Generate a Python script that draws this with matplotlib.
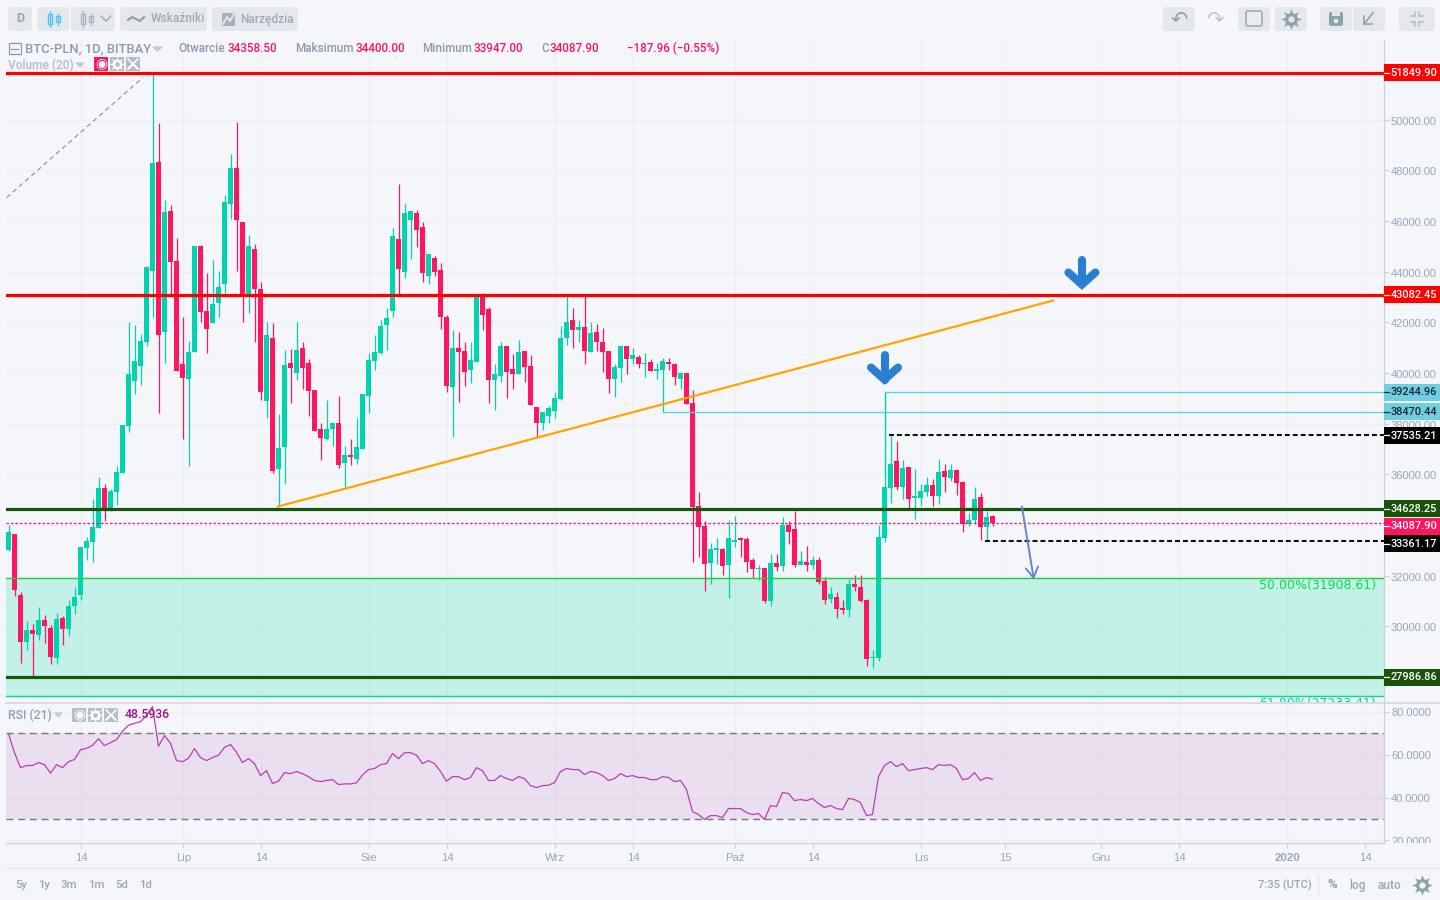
import matplotlib
matplotlib.use('Agg')
import matplotlib.pyplot as plt
import numpy as np
from matplotlib.patches import FancyBboxPatch, Rectangle
from matplotlib.transforms import Bbox, ScaledTranslation

opens = [32990,33660,31250,29390,29830,29670,30260,29910,28760,30340,
         29870,30780,31250,33070,33340,33860,35440,34650,35280,36030,
         37890,39700,40260,41240,44010,48350,41600,46380,44440,40370,
         39780,40810,45000,42430,41990,42780,43500,46690,48080,45980,
         43100,44880,43300,38910,41400,36190,37060,40410,39980,40970,
         40410,39310,37770,37410,37770,38040,36460,36780,36620,36980,
         39110,40490,40770,41910,42430,45310,43970,46060,46300,45750,
         43810,44560,44050,42230,39460,40970,40850,40100,40450,43060,
         42510,39740,39900,41050,40140,39940,40850,40260,38640,38010,
         38320,38480,38990,41400,42110,41680,41800,40810,41600,41240,
         40850,39780,40180,41050,40570,40650,40340,40450,40060,40100,
         40450,40370,39780,39980,38800,34730,33940,32510,32990,33030,
         32430,33340,33500,33460,32630,32240,32280,31010,32510,32360,
         33980,33820,32430,32550,32430,32630,31800,31090,31170,30700,
         30620,31680,31560,31050,28760,28760,33500,35440,36540,35480,
         36270,35080,35080,35280,35560,35160,36110,35870,36150,35680,
         34050,34210,35120,33900,34358.5]
highs = [34010,33660,31330,30220,30100,30740,30460,30030,30540,30420,
         31050,31530,33110,33540,35040,35910,35600,35400,36310,37930,
         42030,41910,41520,44210,51850,49890,46850,46620,45350,42230,
         41280,45000,45040,43930,44480,44010,47010,48630,49930,45980,
         45430,45110,43610,42030,41990,38360,40890,40930,42030,41210,
         40570,39310,38040,38950,38040,39110,37130,37410,38240,39150,
         40770,41480,42110,42550,45710,47450,46730,46380,46420,45980,
         44680,44600,44360,42270,41680,41600,41210,41240,43020,43140,
         42590,40370,41210,41050,40730,41320,40850,40690,38640,38440,
         38710,39230,41840,43020,42550,42110,43020,42030,41950,41760,
         40850,40340,41050,41050,40970,40690,40770,40570,40410,40610,
         40610,40410,40020,39980,39310,35280,34170,33300,33500,33070,
         34210,34370,33540,33540,32710,32430,32280,32870,32870,34330,
         34170,34530,32950,33150,32790,32750,31960,31530,31330,31050,
         31880,32040,32040,31090,29040,34010,39240,37530,37330,36580,
         36270,36190,35600,35910,35830,36620,36420,36420,36190,35750,
         34450,35480,35240,34530,34400]
lows = [32950,31210,28560,29040,28050,29470,29350,28520,28520,29240,
        29630,30500,31050,32630,32550,33860,34170,34530,34800,36030,
        37650,39150,39540,41080,42230,38400,40410,43060,40060,37410,
        36310,40810,42030,40770,41990,42230,43140,46100,44010,42030,
        42350,41240,38950,38240,36030,34690,35630,38800,39740,39350,
        38320,37690,36580,37370,37100,36230,35480,36380,36420,36980,
        38400,40100,40730,40890,42230,43020,43770,44520,44960,43610,
        43500,43810,41720,39230,37490,38870,39500,39620,40450,41680,
        38830,38520,39660,39030,39350,39940,39660,38720,37450,37730,
        38040,38240,38950,41120,41000,41240,40370,40810,40850,40020,
        39190,39070,39660,39940,40340,40180,39860,40060,39780,38440,
        40100,39540,39350,38760,32550,32750,31370,31650,32470,32040,
        31130,33110,32750,32120,31920,31840,30930,30780,32160,32160,
        33260,32320,32400,32160,32240,31680,30860,30930,30340,30500,
        30380,31370,30970,28440,28330,28640,33340,34880,35360,35040,
        34570,34250,34730,35160,34730,34840,35280,35750,35200,33700,
        33940,34050,33420,33380,33947]
closes = [33700,31410,29390,29830,29710,30260,29990,28800,30300,29870,
          30810,31170,33110,33380,33900,35440,34610,35320,36070,37930,
          39940,40490,41280,44170,48310,41480,46340,44400,40060,39820,
          40810,45000,42390,41720,42740,43380,46770,48080,46060,43060,
          45030,43300,39230,41480,36110,37020,40330,40180,40890,40180,
          39270,37690,37450,37770,38040,36380,36780,36700,37060,39150,
          40530,40810,41840,42190,45390,44090,46300,46380,45630,43930,
          44680,43970,42230,39500,40970,40810,40020,40530,43020,42270,
          39740,39940,41050,40020,39940,40810,40220,38720,38010,38440,
          38600,39030,41400,42030,41680,41800,40850,41560,41210,40810,
          39780,40220,41050,40570,40690,40340,40410,40060,40140,40490,
          40340,39860,39980,38760,34690,33900,32470,33030,33070,32360,
          33500,33420,33420,32550,32240,32280,31010,32510,32320,33980,
          33700,32400,32590,32430,32630,31760,31050,31290,30660,30620,
          31680,31560,31010,28720,28800,33540,35480,36420,35480,36230,
          35040,35160,35320,35560,35160,36070,35910,36150,35640,34050,
          34210,35040,33900,34330,34087.9]
rsi = [69.9,61,54,55,55,56.4,55.4,51.4,55.4,54,
       56.8,57.8,62.4,63,64.4,67.5,64.3,65.7,67.1,71,
       73.8,74.7,75.5,78.4,82.5,64,69,65.4,57.3,56.8,
       58.4,62.9,58.7,57.3,58.7,59.8,63.5,64.8,61.2,56.4,
       58.2,55.9,50.3,52.6,46.6,47.7,51.7,51.2,52.2,51.2,
       49.8,48,47.5,48,48.4,46.1,46.4,46.4,46.9,50.6,
       53.1,53.6,55.4,55.9,60.6,58.2,61,61,59.8,55.9,
       57.3,55.9,52.2,47.7,49.8,49.8,48.4,49.4,54,52.6,
       48,48,50.3,48.9,48,49.8,48.9,45.6,44.7,45.6,
       45.8,47,52.2,53.6,53.1,53.1,50.8,52.2,51.7,50.3,
       48,48.9,51.2,49.8,50.3,49.4,49.4,48.4,48.4,49.8,
       49.4,47.5,48,43.8,33.5,32.1,29.8,31.6,31.6,30.7,
       34.9,34.9,34.9,33,32.1,32.6,29.8,36.3,35.8,42.4,
       41.9,38.6,39.1,38.6,39.6,37.2,35.4,36.3,34.9,34.4,
       39.6,39.1,37.7,31.6,32.1,49.8,55,56.8,54.5,55.9,
       52.6,53.1,53.6,54,53.1,55.4,55,55.4,53.6,48.4,
       48.9,51.7,48,49.4,48.5936]

# days since the first candle, labels of the date axis
tick_days = [12,29,42,60,73,91,104,121,134,152,166,182,195,213,226]
tick_labels = ['14','Lip','14','Sie','14','Wrz','14','Paź','14','Lis','15','Gru','14','2020','14']
price_ticks = list(range(28000, 54000, 2000))
rsi_ticks = [80, 60, 40]

red_levels = [51849.90, 43082.45]
green_levels = [34628.25, 27986.86]
last_price = 34087.90
fib_top, fib_bottom = 31908.61, 27233.41
cyan_levels = [39244.96, 38470.44]
cyan_start = [146, 109]
dash_levels = [37535.21, 33361.17]
dash_start = [146.75, 162.75]
trend_x, trend_y = [44.9, 174.1], [34725, 42860]
fan_x, fan_y = [-0.3, 22.4], [46930, 51670]
drop_x, drop_y = [168.9, 170.9], [34725, 31840]
big_arrows = [(146, 39742), (178.9, 43495)]

# tag text, colour, text colour, tag centre price
tags = [('51849.90', '#ff0000', 'white', 51849.90),
        ('43082.45', '#ff0000', 'white', 43082.45),
        ('39244.96', '#6fcfe0', '#1c2733', 39244.96),
        ('38470.44', '#6fcfe0', '#1c2733', 38470.44),
        ('37535.21', '#000000', 'white', 37535.21),
        ('34628.25', '#1a5209', 'white', 34628.25),
        ('34087.90', '#ff1560', 'white', 33950),
        ('33361.17', '#000000', 'white', 33261),
        ('27986.86', '#1a5209', 'white', 27986.86)]

BG = '#f4f6f9'
UP = '#00d4ae'
DOWN = '#ff1560'
GRID = '#edeff2'
AXIS_TXT = '#98a6bd'
HEAD = '#8d99b0'
DPI = 100

plt.rcParams['font.family'] = ['Liberation Sans', 'DejaVu Sans']
fig = plt.figure(figsize=(14.4, 9), dpi=DPI, facecolor=BG)
ax = fig.add_axes([6/1440, 197/900, 1378/1440, 663/900], facecolor=BG)
ax_rsi = fig.add_axes([6/1440, 57/900, 1378/1440, 140/900], facecolor=BG)

x_min, x_max = -0.417, 229.25
x = np.arange(len(opens))
o, h, l, c = map(np.array, (opens, highs, lows, closes))
colors = [UP if c[i] >= o[i] else DOWN for i in x]
tick_x = np.array(tick_days) + 0.13

# price panel
ax.set_xlim(x_min, x_max)
ax.set_ylim(26966, 53150)
ax.vlines(x, l, h, colors=colors, linewidth=0.9, zorder=3)
ax.bar(x, np.maximum(np.abs(c - o), 40), bottom=np.minimum(o, c), width=0.83, color=colors, linewidth=0, zorder=3)
ax.axhspan(fib_bottom, fib_top, color='#00d9a0', alpha=0.2, linewidth=0, zorder=2)
ax.axhline(fib_top, color='#1fcf3f', lw=1.0, zorder=4)
ax.axhline(fib_bottom, color='#00dc9c', lw=1.0, zorder=4)
for lev in red_levels:
    ax.axhline(lev, color='#ff0000', lw=2.3, zorder=5)
for lev in green_levels:
    ax.axhline(lev, color='#17560c', lw=2.3, zorder=5)
ax.axhline(last_price, color=DOWN, lw=0.9, dashes=(2, 1.6), zorder=5)
for lev, st in zip(cyan_levels, cyan_start):
    ax.plot([st, x_max], [lev, lev], color='#62cfdc', lw=0.95, zorder=4)
ax.plot([146, 146], [cyan_levels[0], 36000], color=UP, lw=0.9, zorder=3)
for lev, st in zip(dash_levels, dash_start):
    ax.plot([st, x_max], [lev, lev], color='#111111', lw=1.5, dashes=(2.4, 1.4), zorder=5)
ax.plot(trend_x, trend_y, color='#ffa500', lw=1.6, zorder=6)
ax.plot(fan_x, fan_y, color='#8a8f96', lw=0.8, dashes=(4.2, 3.2), zorder=4)
ax.annotate('', xy=(drop_x[1], drop_y[1]), xytext=(drop_x[0], drop_y[0]), zorder=7,
            arrowprops=dict(arrowstyle='->,head_length=0.5,head_width=0.3', color='#6c84d0', lw=1.4,
                            mutation_scale=15, shrinkA=0, shrinkB=0))
for ax_x, tip in big_arrows:
    ax.plot([ax_x, ax_x], [tip + 948, tip], color='#2a7fd2', lw=5.8, solid_capstyle='round', zorder=8)
    ax.plot([ax_x - 2.25, ax_x, ax_x + 2.25], [tip + 474, tip, tip + 474], color='#2a7fd2', lw=5.8,
            solid_capstyle='round', solid_joinstyle='miter', zorder=8)
ax.text(227.9, fib_top - 296, '50.00%(31908.61)', color='#06e04f', ha='right', va='center',
        fontsize=9, family='DejaVu Sans', zorder=6)
ax.text(227.9, fib_bottom - 296, '61.80%(27233.41)', color='#00dc9c', ha='right', va='center',
        fontsize=9, family='DejaVu Sans', clip_on=True, zorder=6)

ax.set_yticks(price_ticks)
ax.set_yticklabels(['%.2f' % p for p in price_ticks])
ax.yaxis.tick_right()
ax.tick_params(axis='y', length=3.5, width=0.8, color='#c6d0dc', labelcolor=AXIS_TXT, labelsize=8, pad=1.5)
ax.tick_params(axis='x', length=0, labelbottom=False)
for t in ax.get_yticklabels():
    t.set_transform(t.get_transform() + ScaledTranslation(0, -1 / DPI, fig.dpi_scale_trans))
ax.set_xticks(tick_x)
ax.grid(True, color=GRID, lw=0.95)
ax.set_axisbelow(True)
for side in ['top', 'left', 'bottom']:
    ax.spines[side].set_visible(False)
ax.spines['right'].set_color('#c6d2dc')
ax.spines['right'].set_linewidth(0.9)

# price tags on the right axis
yt = ax.get_yaxis_transform()
tag_h = 17 * 39.5
for label_txt, col, txt, centre in tags:
    ax.add_patch(Rectangle((1.0003, centre - tag_h / 2), 56 / 1378, tag_h, transform=yt, color=col,
                           linewidth=0, clip_on=False, zorder=10))
    ax.plot([1.0003, 1.0035], [centre, centre], transform=yt, color=txt, lw=0.9, clip_on=False, zorder=11)
    ax.text(1.0048, centre - 10, label_txt, transform=yt, color=txt, family='Roboto', weight='medium', fontsize=7.9,
            ha='left', va='center', clip_on=False, zorder=11)

# rsi panel
ax_rsi.set_xlim(x_min, x_max)
ax_rsi.set_ylim(18.8, 84.2)
ax_rsi.axhspan(30, 70, color='#a03aa8', alpha=0.12, linewidth=0, zorder=2)
ax_rsi.axhline(70, color='#80727f', lw=1.0, dashes=(5, 3.4), zorder=3)
ax_rsi.axhline(30, color='#80727f', lw=1.0, dashes=(5, 3.4), zorder=3)
ax_rsi.plot(x, rsi, color='#bb3db4', lw=0.9, zorder=4, clip_on=False)
ax_rsi.set_xticks(tick_x)
ax_rsi.set_xticklabels(tick_labels)
ax_rsi.get_xticklabels()[13].set_fontweight('bold')
ax_rsi.set_yticks(rsi_ticks + [20])
ax_rsi.set_yticklabels([])
ax_rsi.yaxis.tick_right()
ax_rsi.tick_params(axis='y', length=3.5, width=0.8, color='#c6d0dc')
ax_rsi.tick_params(axis='x', length=3.5, width=0.8, color='#c6d2dc', labelcolor=AXIS_TXT, labelsize=8.2, pad=4)
ax_rsi.grid(True, color=GRID, lw=0.95)
ax_rsi.set_axisbelow(True)
for side in ['top', 'left']:
    ax_rsi.spines[side].set_visible(False)
ax_rsi.spines['bottom'].set_color('#cbd7db')
ax_rsi.spines['bottom'].set_linewidth(1.0)
ax_rsi.spines['right'].set_color('#c6d2dc')
ax_rsi.spines['right'].set_linewidth(0.9)
yt_rsi = ax_rsi.get_yaxis_transform()
clip_box = Bbox([[1384, 57], [1440, 900]])
for v in rsi_ticks + [20]:
    t = ax_rsi.text(1.0052, v - 0.6, '%.4f' % v, transform=yt_rsi, color=AXIS_TXT, fontsize=8, ha='left', va='center', clip_on=True)
    t.set_clip_box(clip_box)

# page chrome, in screen pixels
ui = fig.add_axes([0, 0, 1, 1], zorder=20)
ui.set_xlim(0, 1440)
ui.set_ylim(900, 0)
ui.axis('off')
ui.patch.set_alpha(0)

def button(x0, y0, x1, y1, col='#e4e8ed'):
    ui.add_patch(FancyBboxPatch((x0 + 2, y0 + 2), x1 - x0 - 4, y1 - y0 - 4, boxstyle='round,pad=2,rounding_size=3',
                                fc=col, ec='none'))

def label(px, py, s, col=HEAD, size=8.8, weight='medium', ha='left', family='Roboto'):
    ui.text(px, py, s, color=col, fontsize=size, weight=weight, ha=ha, va='center', family=family)

def mini_candles(px, py, col):
    ui.plot([px, px], [py - 8, py + 8], color=col, lw=0.9)
    ui.add_patch(Rectangle((px - 2, py - 5), 4, 10, fc='none', ec=col, lw=1))
    ui.plot([px + 8, px + 8], [py - 5, py + 6], color=col, lw=0.9)
    ui.add_patch(Rectangle((px + 6, py - 3), 4, 6, fc='none', ec=col, lw=1))

def gear(px, py, size, col, hole):
    ui.plot([px], [py], marker=(8, 1, 0), ms=size, color=col, mew=0)
    ui.plot([px], [py], marker='o', ms=size * 0.62, color=col, mew=0)
    ui.plot([px], [py], marker='o', ms=size * 0.3, color=hole, mew=0)

ICON = '#8fa3ad'
for b in [(8, 7, 32, 31), (37, 7, 69, 31), (71, 7, 115, 31), (120, 7, 207, 31), (212, 7, 298, 31),
          (1163, 7, 1195, 31), (1238, 7, 1270, 31), (1275, 7, 1307, 31), (1320, 7, 1352, 31),
          (1353, 7, 1385, 31), (1399, 7, 1435, 31)]:
    button(*b)
label(20, 19, 'D', col='#9aa8b4', size=9, ha='center', weight='bold')
mini_candles(50, 19, '#4fc3f7')
mini_candles(83, 19, '#a9b6bf')
ui.plot([101, 106, 111], [16, 21, 16], color='#9aa8b4', lw=1)
ui.plot([128, 132, 136, 140, 144], [20, 17, 19, 21, 17], color=ICON, lw=1.6)
label(151, 19, 'Wskaźniki', col='#9fabb7', size=8.6)
ui.add_patch(Rectangle((222, 13), 13, 13, fc='#a3b1ba', ec='none'))
ui.plot([223, 227, 230, 234], [24, 17, 21, 14], color='#e4e8ed', lw=1.4)
label(240, 19, 'Narzędzia', col='#9fabb7', size=8.6)
label(1179, 19, '↶', col=ICON, size=15, ha='center', family='DejaVu Sans', weight='normal')
label(1215, 19, '↷', col='#bccad2', size=15, ha='center', family='DejaVu Sans', weight='normal')
ui.add_patch(FancyBboxPatch((1246, 11), 16, 15, boxstyle='round,pad=0,rounding_size=2', fc='#e9edf0', ec=ICON, lw=1))
gear(1291, 19, 15, ICON, '#e4e8ed')
ui.add_patch(FancyBboxPatch((1329, 12), 14, 14, boxstyle='round,pad=0,rounding_size=2', fc=ICON, ec='none'))
ui.add_patch(Rectangle((1332, 12), 8, 4, fc='#e4e8ed', ec='none'))
ui.add_patch(plt.Circle((1336, 21), 2.3, fc='#e4e8ed', ec='none'))
ui.plot([1373, 1364, 1364], [13, 24, 16], color=ICON, lw=1.2)
ui.plot([1364, 1372], [24, 24], color=ICON, lw=1.2)
for xa, xb, ya, yb in [(1411, 1415, 16, 16), (1415, 1415, 12, 16), (1419, 1423, 16, 16), (1419, 1419, 12, 16),
                       (1411, 1415, 22, 22), (1415, 1415, 22, 26), (1419, 1423, 22, 22), (1419, 1419, 22, 26)]:
    ui.plot([xa, xb], [ya, yb], color='#b5c2ca', lw=1.2)

# header
ui.add_patch(Rectangle((8.5, 43), 12, 11, fc='none', ec=HEAD, lw=0.9))
ui.plot([11, 18], [48.5, 48.5], color=HEAD, lw=0.9)
label(25, 49, 'BTC-PLN, 1D, BITBAY', size=9.4)
ui.fill([153, 162, 157.5], [47, 47, 51], color='#c5cbd6')
for px, s, col in [(178, 'Otwarcie', HEAD), (228, '34358.50', DOWN), (295, 'Maksimum', HEAD), (355, '34400.00', DOWN),
                   (422, 'Minimum', HEAD), (473, '33947.00', DOWN), (541, 'C', HEAD), (550, '34087.90', DOWN),
                   (627, '−187.96 (−0.55%)', DOWN)]:
    label(px, 48.5, s, col=col, size=8.4)
label(8, 65, 'Volume (20)', col='#b6bcc9', size=8.6)
ui.fill([76, 84, 80], [63, 63, 67], color='#c5cbd6')
for px, kind, col in [(101, 'eye', DOWN), (117, 'gear', '#b1bcc4'), (133, 'x', '#b1bcc4')]:
    ui.add_patch(Rectangle((px - 7, 57), 14, 14, fc=col, ec='none'))
    if kind == 'eye':
        ui.text(px, 63.5, '◉', color='white', fontsize=10, ha='center', va='center', family='DejaVu Sans')
    elif kind == 'gear':
        gear(px, 64, 11, 'white', col)
    else:
        ui.plot([px - 5, px + 5, px, px - 5, px + 5], [59, 69, 64, 69, 59], color='white', lw=1.1)

# rsi legend
label(8, 715, 'RSI (21)', col='#8fa0b8', size=8.8)
ui.fill([55, 62, 58.5], [713, 713, 717], color='#c5cbd6')
for px, kind in [(79, 'eye'), (95, 'gear'), (111, 'x')]:
    ui.add_patch(Rectangle((px - 7, 708), 14, 14, fc='#b4c0c8', ec='none'))
    if kind == 'eye':
        ui.text(px, 714.5, '◉', color='white', fontsize=10, ha='center', va='center', family='DejaVu Sans')
    elif kind == 'gear':
        gear(px, 715, 11, 'white', '#b4c0c8')
    else:
        ui.plot([px - 5, px + 5, px, px - 5, px + 5], [710, 720, 715, 720, 710], color='white', lw=1.1)
label(125, 715, '48.5936', col='#a0108f', size=8.8)

# separators and footer
ui.plot([6, 1440], [703, 703], color='#d6dae4', lw=1.3)
ui.plot([6, 1440], [868, 868], color='#e3e6ea', lw=0.9)
for px, s in [(21, '5y'), (44, '1y'), (69, '3m'), (96, '1m'), (122, '5d'), (146, '1d')]:
    label(px, 885.5, s, col='#9aa8b4', size=8.2, ha='center')
label(1258, 885.5, '7:35 (UTC)', col='#9aa8b4', size=8)
ui.plot([1318, 1318], [875, 895], color='#e3e6ea', lw=0.9)
label(1332, 885, '%', col=ICON, size=9.5, ha='center', weight='bold')
label(1358, 885.5, 'log', col='#9aa8b4', size=8.6, ha='center')
label(1389, 885.5, 'auto', col='#9aa8b4', size=8.6, ha='center')
gear(1422, 885, 15, ICON, BG)

fig.savefig('out.png', dpi=DPI, facecolor=BG)
